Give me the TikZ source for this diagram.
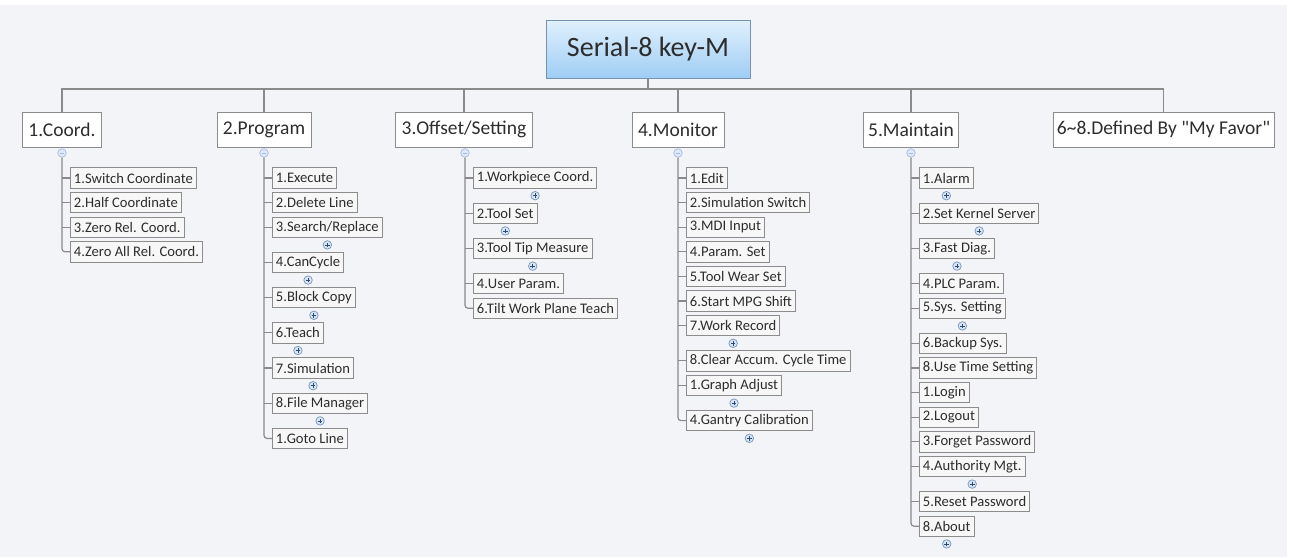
\documentclass[tikz,border=0pt]{standalone}
\usepackage{fontspec}
\setmainfont{Carlito}
\definecolor{bgcol}{RGB}{243,244,248}
\definecolor{txt}{RGB}{45,45,45}
\definecolor{boxline}{RGB}{140,140,140}
\definecolor{linecol}{RGB}{138,138,138}
\definecolor{subfill}{RGB}{247,247,247}
\definecolor{rootTop}{RGB}{224,240,253}
\definecolor{rootBot}{RGB}{158,205,244}
\definecolor{rootline}{RGB}{118,146,176}
\definecolor{plusfill}{RGB}{214,228,243}
\definecolor{plusline}{RGB}{120,150,188}
\definecolor{plussign}{RGB}{45,75,115}
\definecolor{minusfill}{RGB}{222,232,247}
\definecolor{minusline}{RGB}{165,188,222}
\tikzset{
  rootbox/.style={draw=rootline, line width=1pt, top color=rootTop, bottom color=rootBot,
    minimum width=204, minimum height=58, inner sep=0pt, text=txt,
    font=\fontsize{28}{32}\selectfont},
  topic/.style={draw=boxline, line width=1pt, fill=white, minimum height=35, inner sep=0pt,
    text=txt, font=\fontsize{19.5}{22}\selectfont},
  sub/.style={draw=boxline, line width=0.9pt, fill=subfill, anchor=west, minimum height=20.5,
    inner xsep=3.5pt, inner ysep=0pt, text=txt, font=\fontsize{14.6}{16}\selectfont},
  link/.style={draw=linecol, line width=1.2pt},
  expandmark/.style={circle, draw=plusline, line width=0.7pt, fill=plusfill, minimum size=8.5,
    inner sep=0pt,
    path picture={\draw[plussign, line width=0.8pt]
      ([xshift=-2.3pt]path picture bounding box.center) -- ([xshift=2.3pt]path picture bounding box.center)
      ([yshift=-2.3pt]path picture bounding box.center) -- ([yshift=2.3pt]path picture bounding box.center);}},
  collapsemark/.style={circle, draw=minusline, line width=0.7pt, fill=minusfill, minimum size=8.5,
    inner sep=0pt,
    path picture={\draw[minusline, line width=0.8pt]
      ([xshift=-2.2pt]path picture bounding box.center) -- ([xshift=2.2pt]path picture bounding box.center);}},
}
\begin{document}
\begin{tikzpicture}[x=1pt, y=-1pt]
\useasboundingbox (0,0) rectangle (1290,557);
\fill[white] (0,0) rectangle (1290,557);
\fill[bgcol] (0,5) rectangle (1287,557);

% central topic and main branches
\node[rootbox] (root) at (648,49.5) {Serial-8 key-M};
\coordinate (bar) at (0,89);

\node[topic, minimum width=79]  (t1) at (62,129.5)   {1.Coord.};
\node[topic, minimum width=94]  (t2) at (264,129.5)  {2.Program};
\node[topic, minimum width=137] (t3) at (464,129.5)  {3.Offset/Setting};
\node[topic, minimum width=92]  (t4) at (678,129.5)  {4.Monitor};
\node[topic, minimum width=95]  (t5) at (911,129.5)  {5.Maintain};
\node[topic, minimum width=221] (t6) at (1163.5,129.5) {6\textasciitilde 8.Defined By \textquotedbl My Favor\textquotedbl};

\draw[link] (root.south) -- (root.south |- bar);
\draw[link] (t1.north) -- (t1.north |- bar) -- (t6.north |- bar) -- (t6.north);
\foreach \t in {t2,t3,t4,t5} \draw[link] (\t.north) -- (\t.north |- bar);

% collapse markers under the branches
\node[collapsemark] (e1) at (62,153) {};
\node[collapsemark] (e2) at (264,153) {};
\node[collapsemark] (e3) at (465,153) {};
\node[collapsemark] (e4) at (678,153) {};
\node[collapsemark] (e5) at (911,153) {};

% 1.Coord.
\node[sub] (c1a) at (70,178)   {1.Switch Coordinate};
\node[sub] (c1b) at (70,202.6) {2.Half Coordinate};
\node[sub] (c1c) at (70,227.2) {3.Zero Rel. Coord.};
\node[sub] (c1d) at (70,251.8) {4.Zero All Rel. Coord.};
\foreach \c in {c1a,c1b,c1c} \draw[link] (e1 |- \c.west) -- (\c.west);
\draw[link, rounded corners=3pt] (e1.south) |- (c1d.west);

% 2.Program
\node[sub] (c2a) at (272,178)   {1.Execute};
\node[sub] (c2b) at (272,202.6) {2.Delete Line};
\node[sub] (c2c) at (272,227.2) {3.Search/Replace};
\node[sub] (c2d) at (272,262.4) {4.CanCycle};
\node[sub] (c2e) at (272,297.6) {5.Block Copy};
\node[sub] (c2f) at (272,332.8) {6.Teach};
\node[sub] (c2g) at (272,368.0) {7.Simulation};
\node[sub] (c2h) at (272,403.2) {8.File Manager};
\node[sub] (c2i) at (272,438.4) {1.Goto Line};
\foreach \c in {c2a,c2b,c2c,c2d,c2e,c2f,c2g,c2h} \draw[link] (e2 |- \c.west) -- (\c.west);
\draw[link, rounded corners=3pt] (e2.south) |- (c2i.west);
\foreach \c in {c2c,c2d,c2e,c2f,c2g,c2h} \node[expandmark] at ([yshift=-7pt]\c.south) {};

% 3.Offset/Setting
\node[sub] (c3a) at (473,178)   {1.Workpiece Coord.};
\node[sub] (c3b) at (473,213.2) {2.Tool Set};
\node[sub] (c3c) at (473,248.4) {3.Tool Tip Measure};
\node[sub] (c3d) at (473,283.6) {4.User Param.};
\node[sub] (c3e) at (473,308.2) {6.Tilt Work Plane Teach};
\foreach \c in {c3a,c3b,c3c,c3d} \draw[link] (e3 |- \c.west) -- (\c.west);
\draw[link, rounded corners=3pt] (e3.south) |- (c3e.west);
\foreach \c in {c3a,c3b,c3c} \node[expandmark] at ([yshift=-7pt]\c.south) {};

% 4.Monitor
\node[sub] (c4a) at (686,178)   {1.Edit};
\node[sub] (c4b) at (686,202.6) {2.Simulation Switch};
\node[sub] (c4c) at (686,227.2) {3.MDI Input};
\node[sub] (c4d) at (686,251.8) {4.Param. Set};
\node[sub] (c4e) at (686,276.4) {5.Tool Wear Set};
\node[sub] (c4f) at (686,301.0) {6.Start MPG Shift};
\node[sub] (c4g) at (686,325.6) {7.Work Record};
\node[sub] (c4h) at (686,360.8) {8.Clear Accum. Cycle Time};
\node[sub] (c4i) at (686,385.4) {1.Graph Adjust};
\node[sub] (c4j) at (686,420.6) {4.Gantry Calibration};
\foreach \c in {c4a,c4b,c4c,c4d,c4e,c4f,c4g,c4h,c4i} \draw[link] (e4 |- \c.west) -- (\c.west);
\draw[link, rounded corners=3pt] (e4.south) |- (c4j.west);
\foreach \c in {c4g,c4i,c4j} \node[expandmark] at ([yshift=-7pt]\c.south) {};

% 5.Maintain
\node[sub] (c5a) at (919,178)   {1.Alarm};
\node[sub] (c5b) at (919,213.2) {2.Set Kernel Server};
\node[sub] (c5c) at (919,248.4) {3.Fast Diag.};
\node[sub] (c5d) at (919,283.6) {4.PLC Param.};
\node[sub] (c5e) at (919,308.2) {5.Sys. Setting};
\node[sub] (c5f) at (919,343.4) {6.Backup Sys.};
\node[sub] (c5g) at (919,368.0) {8.Use Time Setting};
\node[sub] (c5h) at (919,392.6) {1.Login};
\node[sub] (c5i) at (919,417.2) {2.Logout};
\node[sub] (c5j) at (919,441.8) {3.Forget Password};
\node[sub] (c5k) at (919,466.4) {4.Authority Mgt.};
\node[sub] (c5l) at (919,501.6) {5.Reset Password};
\node[sub] (c5m) at (919,526.2) {8.About};
\foreach \c in {c5a,c5b,c5c,c5d,c5e,c5f,c5g,c5h,c5i,c5j,c5k,c5l} \draw[link] (e5 |- \c.west) -- (\c.west);
\draw[link, rounded corners=3pt] (e5.south) |- (c5m.west);
\foreach \c in {c5a,c5b,c5c,c5e,c5k,c5m} \node[expandmark] at ([yshift=-7pt]\c.south) {};
\end{tikzpicture}
\end{document}
